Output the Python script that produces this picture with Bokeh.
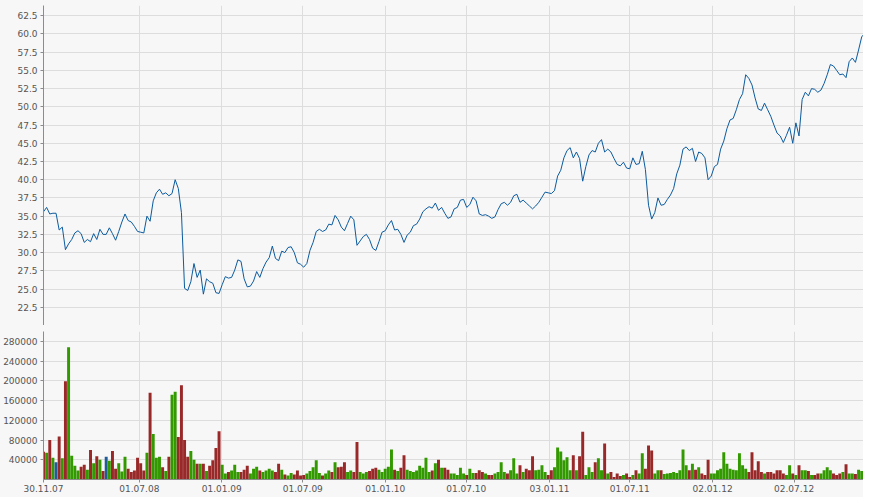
import pandas as pd
from bokeh.plotting import figure
from bokeh.layouts import column
from bokeh.models import (ColumnDataSource, Range1d, FixedTicker, PrintfTickFormatter,
                          DatetimeTickFormatter, Span)
from bokeh.embed import file_html
from bokeh.resources import INLINE

# ---------------- data (weekly) ----------------
start_date = "2007-11-30"
end_date = "2012-12-04"

price = [
    35.6, 36.2, 35.3, 35.4, 35.4, 33.1, 33.5, 30.4, 31.2, 31.8,
    32.7, 33.0, 32.6, 31.4, 31.8, 31.5, 32.6, 31.8, 33.2, 32.5,
    32.5, 33.4, 32.6, 31.7, 32.9, 34.2, 35.3, 34.4, 34.2, 33.6,
    32.9, 32.8, 32.7, 35.0, 34.3, 37.1, 38.2, 38.7, 38.0, 38.2,
    37.8, 38.1, 40.0, 38.8, 35.5, 25.1, 24.8, 26.0, 28.5, 26.6,
    27.6, 24.3, 26.4, 26.0, 25.8, 24.5, 24.4, 25.6, 26.7, 26.5,
    26.6, 27.6, 29.0, 28.8, 26.4, 25.3, 25.4, 26.1, 27.4, 26.6,
    27.8, 28.7, 29.3, 30.9, 29.2, 28.9, 30.2, 30.0, 30.7, 30.8,
    30.0, 28.6, 28.4, 28.0, 28.5, 30.3, 31.4, 32.9, 33.2, 32.9,
    33.1, 33.9, 33.8, 35.1, 34.5, 33.5, 33.0, 34.0, 35.0, 34.5,
    31.0, 31.6, 32.2, 32.5, 31.8, 30.6, 30.3, 31.5, 32.8, 33.0,
    33.8, 34.4, 33.1, 33.2, 32.5, 31.4, 32.4, 32.8, 33.7, 33.9,
    34.6, 35.6, 36.0, 36.3, 36.1, 36.8, 35.8, 36.2, 35.4, 34.7,
    34.9, 36.0, 36.2, 37.2, 37.3, 36.2, 36.6, 37.6, 37.1, 35.3,
    35.1, 35.2, 35.0, 34.7, 34.9, 35.9, 36.7, 36.9, 36.5, 36.9,
    37.8, 38.0, 36.9, 37.2, 36.8, 36.4, 36.0, 36.4, 36.9, 37.6,
    38.3, 38.2, 38.1, 38.5, 40.5, 41.3, 43.0, 44.0, 44.4, 43.0,
    43.8, 42.9, 39.8, 41.8, 43.4, 44.0, 43.8, 45.0, 45.5, 43.8,
    44.2, 43.8, 42.9, 42.1, 41.9, 42.4, 41.6, 41.5, 43.0, 42.1,
    42.2, 43.9, 41.4, 36.5, 34.6, 35.5, 37.5, 36.5, 36.6, 37.3,
    37.9, 38.8, 40.8, 42.0, 44.2, 44.5, 44.0, 44.3, 42.5, 43.8,
    43.6, 43.0, 40.0, 40.5, 41.8, 42.1, 44.2, 45.3, 47.0, 48.2,
    48.4, 49.6, 51.0, 51.8, 54.4, 53.9, 53.0, 51.2, 49.7, 49.5,
    50.5, 49.6, 48.7, 47.5, 46.4, 46.0, 45.1, 46.1, 47.2, 45.0,
    47.8, 46.0, 51.0, 52.0, 51.5, 52.5, 52.4, 52.0, 52.3, 53.2,
    54.4, 55.8, 55.6, 55.0, 54.4, 54.5, 54.0, 56.2, 56.7, 56.1,
    57.8, 59.6, 60.1,
]

volume = [
    56000, 54000, 80000, 44000, 35000, 87000, 43000, 199000, 268000, 48000,
    28000, 18000, 26000, 30000, 20000, 60000, 33000, 47000, 40000, 17000,
    46000, 38000, 58000, 22000, 33000, 16000, 46000, 22000, 15000, 18000,
    44000, 33000, 18000, 54000, 176000, 92000, 44000, 46000, 25000, 17000,
    46000, 172000, 178000, 86000, 191000, 80000, 46000, 58000, 40000, 32000,
    32000, 32000, 17000, 28000, 39000, 64000, 98000, 30000, 12000, 15000,
    18000, 30000, 15000, 15000, 20000, 28000, 12000, 22000, 26000, 18000,
    15000, 18000, 22000, 18000, 15000, 32000, 20000, 10000, 8000, 13000,
    10000, 18000, 8000, 9000, 12000, 17000, 25000, 39000, 13000, 8000,
    12000, 18000, 15000, 35000, 25000, 26000, 35000, 15000, 18000, 15000,
    76000, 15000, 12000, 15000, 17000, 22000, 24000, 20000, 15000, 22000,
    26000, 61000, 20000, 17000, 24000, 49000, 20000, 17000, 15000, 18000,
    28000, 24000, 44000, 15000, 18000, 33000, 40000, 24000, 24000, 20000,
    12000, 12000, 9000, 24000, 12000, 9000, 22000, 13000, 13000, 19000,
    15000, 12000, 9000, 9000, 12000, 15000, 35000, 15000, 12000, 19000,
    43000, 12000, 29000, 15000, 22000, 19000, 47000, 19000, 20000, 29000,
    15000, 9000, 19000, 25000, 65000, 57000, 39000, 45000, 19000, 49000,
    19000, 47000, 97000, 9000, 25000, 15000, 35000, 43000, 19000, 73000,
    12000, 15000, 5000, 12000, 7000, 9000, 12000, 5000, 9000, 19000,
    12000, 53000, 22000, 69000, 59000, 12000, 19000, 19000, 11000, 12000,
    13000, 15000, 13000, 19000, 61000, 29000, 19000, 32000, 20000, 25000,
    12000, 9000, 40000, 12000, 12000, 19000, 22000, 55000, 32000, 22000,
    20000, 19000, 53000, 29000, 22000, 15000, 55000, 19000, 37000, 15000,
    12000, 15000, 15000, 12000, 19000, 19000, 12000, 9000, 29000, 12000,
    9000, 29000, 19000, 19000, 17000, 9000, 9000, 12000, 12000, 19000,
    25000, 19000, 12000, 9000, 12000, 15000, 31000, 12000, 12000, 11000,
    20000, 17000, 22000,
]

date_ticks = ["2007-11-30", "2008-07-01", "2009-01-01", "2009-07-01", "2010-01-01",
              "2010-07-01", "2011-01-03", "2011-07-01", "2012-01-02", "2012-07-02"]
price_ticks = [22.5, 25.0, 27.5, 30.0, 32.5, 35.0, 37.5, 40.0, 42.5, 45.0,
               47.5, 50.0, 52.5, 55.0, 57.5, 60.0, 62.5]
volume_ticks = [40000, 80000, 120000, 160000, 200000, 240000, 280000]
price_range = (20.0, 63.9)
volume_range = (0, 300000)

# ---------------- styling ----------------
BG = "#f7f7f7"
GRID = "#dddddd"
AXIS = "#8c8c8c"
LABEL = "#555555"
LINE = "#0b5a9e"
UP, DOWN, FLAT = "#339900", "#992828", "#1f5c99"
FONT = "DejaVu Sans"

n = min(len(price), len(volume))
dates = pd.date_range(start_date, periods=n, freq="7D")
colors = [DOWN]
for i in range(1, n):
    if price[i] > price[i - 1]:
        colors.append(UP)
    elif price[i] < price[i - 1]:
        colors.append(DOWN)
    else:
        colors.append(FLAT)

src = ColumnDataSource(dict(date=dates, price=price[:n], volume=volume[:n], color=colors))

x_range = Range1d(pd.Timestamp(start_date), pd.Timestamp(end_date))
tick_ms = [pd.Timestamp(d).value // 10**6 for d in date_ticks]
date_ticker = FixedTicker(ticks=tick_ms)


def style(p):
    p.background_fill_color = BG
    p.border_fill_color = BG
    p.outline_line_color = None
    p.grid.grid_line_color = GRID
    p.yaxis.axis_line_color = AXIS
    p.yaxis.major_tick_line_color = AXIS
    p.yaxis.major_tick_out = 3
    p.yaxis.major_tick_in = 0
    p.yaxis.minor_tick_line_color = None
    p.yaxis.major_label_text_font = FONT
    p.yaxis.major_label_text_font_size = "9px"
    p.yaxis.major_label_text_color = LABEL
    p.yaxis.major_label_standoff = 3
    p.xgrid.ticker = date_ticker


W = 863
p1 = figure(width=W, height=325, x_axis_type="datetime", x_range=x_range,
            y_range=Range1d(*price_range), output_backend="svg", toolbar_location=None,
            min_border_left=43, min_border_right=0, min_border_top=5, min_border_bottom=0)
style(p1)
p1.xaxis.visible = False
p1.yaxis.ticker = FixedTicker(ticks=price_ticks)
p1.ygrid.ticker = FixedTicker(ticks=price_ticks)
p1.yaxis.formatter = PrintfTickFormatter(format="%.1f")
p1.line("date", "price", source=src, line_color=LINE, line_width=1)
p1.add_layout(Span(location=price_range[0], dimension="width", line_color=AXIS, line_width=1))

p2 = figure(width=W, height=172, x_axis_type="datetime", x_range=x_range,
            y_range=Range1d(*volume_range), output_backend="svg", toolbar_location=None,
            min_border_left=43, min_border_right=0, min_border_top=6, min_border_bottom=18)
style(p2)
p2.vbar(x="date", top="volume", width=6.6 * 86400000, source=src,
        fill_color="color", line_color=None)
p2.yaxis.ticker = FixedTicker(ticks=volume_ticks)
p2.ygrid.ticker = FixedTicker(ticks=volume_ticks)
p2.yaxis.formatter = PrintfTickFormatter(format="%d")
p2.xaxis.ticker = date_ticker
fmt = "%d.%m.%y"
p2.xaxis.formatter = DatetimeTickFormatter(milliseconds=fmt, seconds=fmt, minsec=fmt,
                                           minutes=fmt, hourmin=fmt, hours=fmt, days=fmt,
                                           months=fmt, years=fmt)
p2.xaxis.axis_line_color = AXIS
p2.xaxis.major_tick_line_color = AXIS
p2.xaxis.major_tick_out = 3
p2.xaxis.major_tick_in = 0
p2.xaxis.minor_tick_line_color = None
p2.xaxis.major_label_text_font = FONT
p2.xaxis.major_label_text_font_size = "9px"
p2.xaxis.major_label_text_color = LABEL
p2.xaxis.major_label_standoff = 2

layout = column(p1, p2, spacing=0)
layout.styles = {"background-color": BG}
open("out.html", "w").write(file_html(layout, INLINE))
